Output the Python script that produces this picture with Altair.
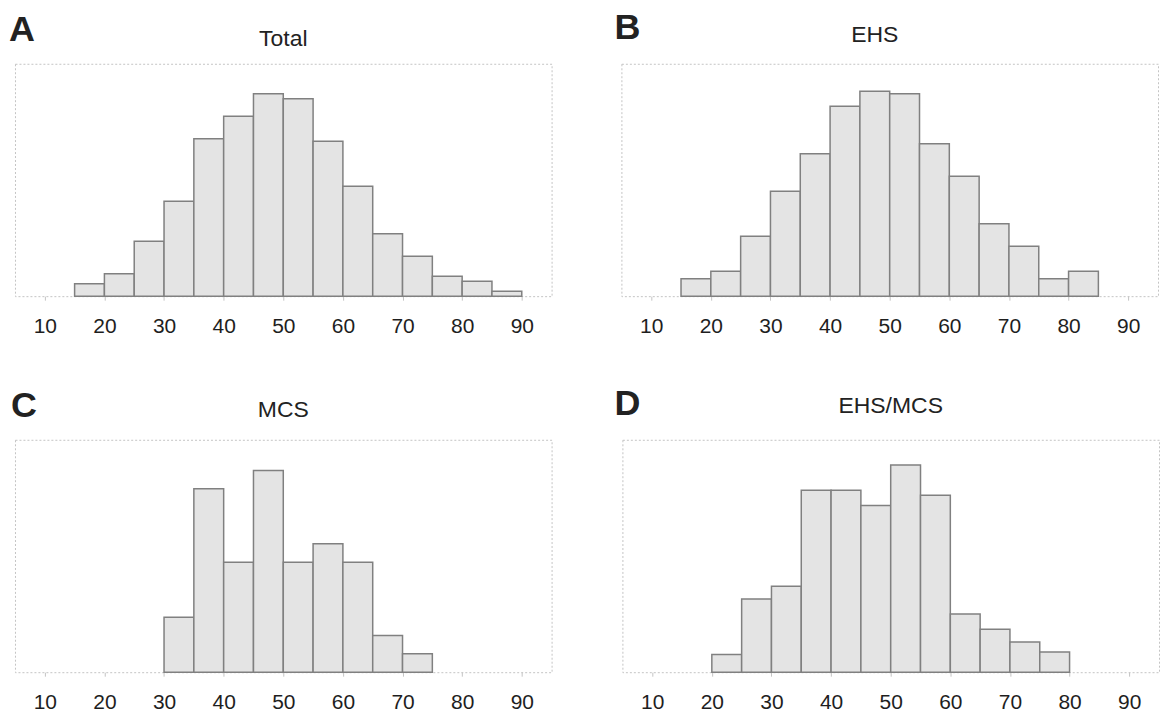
import altair as alt
import pandas as pd

# ---- data (bin width 5) ----
TICKS = [10, 20, 30, 40, 50, 60, 70, 80, 90]

total_starts = [15, 20, 25, 30, 35, 40, 45, 50, 55, 60, 65, 70, 75, 80, 85]
total_counts = [5, 9, 22, 38, 63, 72, 81, 79, 62, 44, 25, 16, 8, 6, 2]

ehs_starts = [15, 20, 25, 30, 35, 40, 45, 50, 55, 60, 65, 70, 75, 80]
ehs_counts = [7, 10, 24, 42, 57, 76, 82, 81, 61, 48, 29, 20, 7, 10]

mcs_starts = [30, 35, 40, 45, 50, 55, 60, 65, 70]
mcs_counts = [3, 10, 6, 11, 6, 7, 6, 2, 1]

both_starts = [20, 25, 30, 35, 40, 45, 50, 55, 60, 65, 70, 75]
both_counts = [7, 29, 34, 72, 72, 66, 82, 70, 23, 17, 12, 8]

FONT = "Liberation Sans"
W, H = 538, 233


def panel(letter, title, starts, counts, ymax, letter_dx, letter_dy, title_dx, title_dy):
    df = pd.DataFrame({"start": starts,
                       "end": [s + 5 for s in starts],
                       "count": counts})
    bars = alt.Chart(df).mark_bar(
        fill="#e4e4e4", stroke="#808080", strokeWidth=1.5
    ).encode(
        x=alt.X("start:Q",
                scale=alt.Scale(domain=[5, 95], nice=False, zero=False),
                axis=alt.Axis(values=TICKS, title=None, grid=False, domain=False,
                              tickColor="#c4c4c4", tickSize=4, labelPadding=15,
                              labelFont=FONT, labelFontSize=21, labelColor="#1e1e1e",
                              labelFlush=False)),
        x2="end:Q",
        y=alt.Y("count:Q", scale=alt.Scale(domain=[0, ymax], nice=False), axis=None),
        y2=alt.datum(0),
    )
    lt = alt.Chart(pd.DataFrame({"t": [letter]})).mark_text(
        font=FONT, fontSize=36, fontWeight="bold", align="left",
        baseline="alphabetic", color="#222222"
    ).encode(text="t:N", x=alt.value(letter_dx), y=alt.value(letter_dy))
    tt = alt.Chart(pd.DataFrame({"t": [title]})).mark_text(
        font=FONT, fontSize=23, align="center", baseline="alphabetic", color="#222222"
    ).encode(text="t:N", x=alt.value(W / 2 + title_dx), y=alt.value(title_dy))
    return alt.layer(bars, lt, tt).properties(width=W, height=H)


A = panel("A", "Total", total_starts, total_counts, 93, -6, -23, 0, -18)
B = panel("B", "EHS", ehs_starts, ehs_counts, 93, -7, -25, -15, -22)
C = panel("C", "MCS", mcs_starts, mcs_counts, 12.67, -4, -23, 0, -23)
D = panel("D", "EHS/MCS", both_starts, both_counts, 92, -8, -25, 0, -27)

chart = alt.vconcat(
    alt.hconcat(A, B, spacing=61),
    alt.hconcat(C, D, spacing=61),
    spacing=48,
).configure_view(
    stroke="#c4c4c4", strokeDash=[2, 2], strokeWidth=1
).properties(
    padding={"left": 0, "top": 0, "right": 0, "bottom": 0},
    background="white",
)

chart.save("out.html", embed_options={"renderer": "svg", "actions": False})
